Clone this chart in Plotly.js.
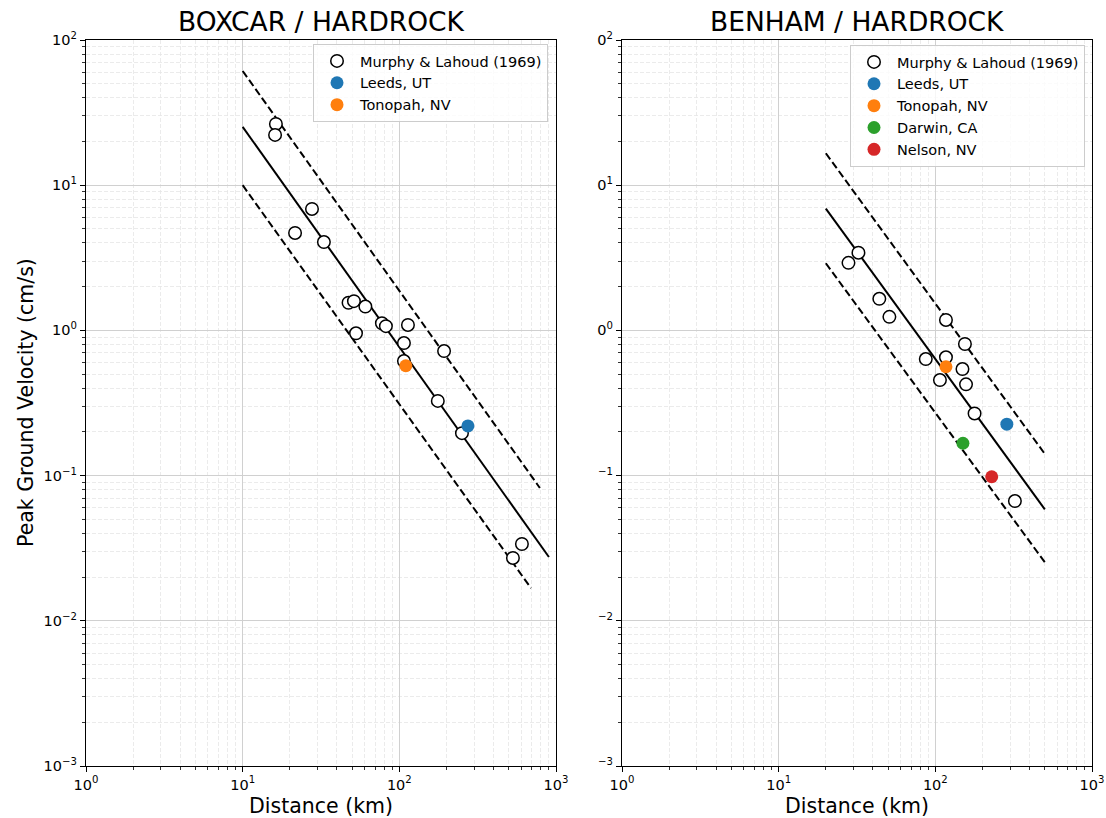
<!DOCTYPE html>
<html><head><meta charset="utf-8">
<script src="https://cdn.plot.ly/plotly-3.0.1.min.js"></script>
<style>html,body{margin:0;padding:0;background:#fff}</style>
</head><body><div id="chart" style="width:1106px;height:818px"></div>
<script>
// ---------- data ----------
const boxcarMurphyX = [16.3, 16.1, 27.7, 21.6, 33.0, 47.4, 51.3, 60.7, 52.9, 77.4, 82.1, 113.5, 107, 107, 193, 176, 251, 531, 606];
const boxcarMurphyY = [26.4, 22.2, 6.86, 4.69, 4.06, 1.55, 1.59, 1.46, 0.955, 1.12, 1.07, 1.09, 0.818, 0.615, 0.721, 0.327, 0.196, 0.0271, 0.0338];
const boxcarLeedsX = [274];
const boxcarLeedsY = [0.22];
const boxcarTonopahX = [110];
const boxcarTonopahY = [0.571];
const boxcarFitX = [10, 901];
const boxcarFitY = [25.2, 0.0275];
const boxcarUpperX = [10, 789];
const boxcarUpperY = [61.2, 0.0822];
const boxcarLowerX = [10, 692];
const boxcarLowerY = [10.0, 0.0168];

const benhamMurphyX = [27.9, 32.3, 43.9, 50.9, 116.9, 154.5, 86.9, 116.9, 149, 107, 157, 178, 322];
const benhamMurphyY = [2.92, 3.43, 1.65, 1.24, 1.18, 0.806, 0.635, 0.653, 0.542, 0.455, 0.425, 0.268, 0.0668];
const benhamLeedsX = [286];
const benhamLeedsY = [0.226];
const benhamTonopahX = [116.9];
const benhamTonopahY = [0.562];
const benhamDarwinX = [150];
const benhamDarwinY = [0.167];
const benhamNelsonX = [229];
const benhamNelsonY = [0.0982];
const benhamFitX = [20, 500];
const benhamFitY = [6.9, 0.0585];
const benhamUpperX = [20, 500];
const benhamUpperY = [16.6, 0.141];
const benhamLowerX = [20, 500];
const benhamLowerY = [2.90, 0.0253];

const panelTitles = ["BOXCAR / HARDROCK", "BENHAM / HARDROCK"];
const xTickVals = [1, 10, 100, 1000];
const xTickText = ["10<sup>0</sup>", "10<sup>1</sup>", "10<sup>2</sup>", "10<sup>3</sup>"];
const yTickVals = [0.001, 0.01, 0.1, 1, 10, 100];
const yTickTextLeft = ["10<sup>−3</sup>", "10<sup>−2</sup>", "10<sup>−1</sup>", "10<sup>0</sup>", "10<sup>1</sup>", "10<sup>2</sup>"];
const yTickTextRight = ["<sup>−3</sup>", "<sup>−2</sup>", "<sup>−1</sup>", "0<sup>0</sup>", "0<sup>1</sup>", "0<sup>2</sup>"];
const legendNames = ["Murphy & Lahoud (1969)", "Leeds, UT", "Tonopah, NV", "Darwin, CA", "Nelson, NV"];
const colors = {leeds: "#1f77b4", tonopah: "#ff7f0e", darwin: "#2ca02c", nelson: "#d62728"};

// ---------- helpers ----------
function minorVals(lo, hi) {
  const v = [];
  for (let e = lo; e < hi; e++) for (let m = 2; m <= 9; m++) v.push(m * Math.pow(10, e));
  return v;
}
const W = 1106, H = 818;
const FONT = "DejaVu Sans, sans-serif";

function axisCfg(domain, range, tvals, ttext, minor, anchor) {
  return {
    type: "log", range: range, domain: domain, anchor: anchor,
    tickmode: "array", tickvals: tvals, ticktext: ttext,
    ticks: "outside", ticklen: 5, tickwidth: 1, tickcolor: "#000",
    showline: true, linecolor: "#000", linewidth: 1.1, mirror: true,
    showgrid: true, gridcolor: "#d0d0d0", gridwidth: 1,
    zeroline: false,
    tickfont: {family: FONT, size: 14.5, color: "#000"},
    minor: {tickmode: "array", tickvals: minor, ticks: "outside", ticklen: 3, tickwidth: 0.8,
            tickcolor: "#000", showgrid: true, gridcolor: "#e6e6e6", griddash: "4px,2px", gridwidth: 0.8},
    automargin: false
  };
}

function pts(x, y, name, color, xa, ya, leg, open) {
  return {
    x: x, y: y, type: "scatter", mode: "markers", name: name, xaxis: xa, yaxis: ya, legend: leg,
    marker: open ? {size: 12.5, color: "#fff", line: {color: "#000", width: 1.5}}
                 : {size: 13, color: color, line: {width: 0}},
    cliponaxis: false
  };
}
function line(x, y, xa, ya, dash) {
  return {x: x, y: y, type: "scatter", mode: "lines", xaxis: xa, yaxis: ya, showlegend: false,
          line: {color: "#000", width: 2, dash: dash ? "7.5px,3.5px" : "solid"}, hoverinfo: "skip"};
}

const traces = [
  line(boxcarFitX, boxcarFitY, "x", "y", false),
  line(boxcarUpperX, boxcarUpperY, "x", "y", true),
  line(boxcarLowerX, boxcarLowerY, "x", "y", true),
  pts(boxcarMurphyX, boxcarMurphyY, legendNames[0], null, "x", "y", "legend", true),
  pts(boxcarLeedsX, boxcarLeedsY, legendNames[1], colors.leeds, "x", "y", "legend", false),
  pts(boxcarTonopahX, boxcarTonopahY, legendNames[2], colors.tonopah, "x", "y", "legend", false),

  line(benhamFitX, benhamFitY, "x2", "y2", false),
  line(benhamUpperX, benhamUpperY, "x2", "y2", true),
  line(benhamLowerX, benhamLowerY, "x2", "y2", true),
  pts(benhamMurphyX, benhamMurphyY, legendNames[0], null, "x2", "y2", "legend2", true),
  pts(benhamLeedsX, benhamLeedsY, legendNames[1], colors.leeds, "x2", "y2", "legend2", false),
  pts(benhamTonopahX, benhamTonopahY, legendNames[2], colors.tonopah, "x2", "y2", "legend2", false),
  pts(benhamDarwinX, benhamDarwinY, legendNames[3], colors.darwin, "x2", "y2", "legend2", false),
  pts(benhamNelsonX, benhamNelsonY, legendNames[4], colors.nelson, "x2", "y2", "legend2", false)
];

const yDom = [52 / H, 778 / H];
const xDom1 = [86 / W, 556 / W];
const xDom2 = [622 / W, 1092 / W];
const mx = minorVals(0, 3), my = minorVals(-3, 2);

const legendBase = {
  bgcolor: "rgba(255,255,255,0.8)", bordercolor: "#cccccc", borderwidth: 1,
  font: {family: FONT, size: 14.5, color: "#000"}, xanchor: "right", yanchor: "top",
  itemsizing: "trace", itemwidth: 36
};

const layout = {
  width: W, height: H,
  margin: {l: 0, r: 0, t: 0, b: 0, pad: 0},
  paper_bgcolor: "#fff", plot_bgcolor: "#fff",
  font: {family: FONT, color: "#000"},
  showlegend: true,
  xaxis: axisCfg(xDom1, [0, 3], xTickVals, xTickText, mx, "y"),
  yaxis: axisCfg(yDom, [-3, 2], yTickVals, yTickTextLeft, my, "x"),
  xaxis2: axisCfg(xDom2, [0, 3], xTickVals, xTickText, mx, "y2"),
  yaxis2: axisCfg(yDom, [-3, 2], yTickVals, yTickTextRight, my, "x2"),
  legend: Object.assign({}, legendBase, {x: 548 / W, y: 1 - 44 / H}),
  legend2: Object.assign({}, legendBase, {x: 1085 / W, y: 1 - 45 / H}),
  annotations: [
    {text: panelTitles[0], xref: "paper", yref: "paper", x: 321 / W, y: 1 - 22 / H, showarrow: false,
     xanchor: "center", yanchor: "middle", font: {family: FONT, size: 26.5, color: "#000"}},
    {text: panelTitles[1], xref: "paper", yref: "paper", x: 857 / W, y: 1 - 22 / H, showarrow: false,
     xanchor: "center", yanchor: "middle", font: {family: FONT, size: 26.5, color: "#000"}},
    {text: "Distance (km)", xref: "paper", yref: "paper", x: 321 / W, y: 1 - 806 / H, showarrow: false,
     xanchor: "center", yanchor: "middle", font: {family: FONT, size: 20.5, color: "#000"}},
    {text: "Distance (km)", xref: "paper", yref: "paper", x: 857 / W, y: 1 - 806 / H, showarrow: false,
     xanchor: "center", yanchor: "middle", font: {family: FONT, size: 20.5, color: "#000"}},
    {text: "Peak Ground Velocity (cm/s)", xref: "paper", yref: "paper", x: 26 / W, y: 1 - 403 / H,
     showarrow: false, textangle: -90, xanchor: "center", yanchor: "middle",
     font: {family: FONT, size: 20.5, color: "#000"}}
  ]
};

Plotly.newPlot("chart", traces, layout, {displayModeBar: false, staticPlot: true});
</script></body></html>
